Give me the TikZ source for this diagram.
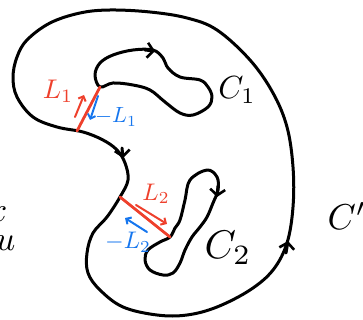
\documentclass[tikz,border=0pt]{standalone}
\usetikzlibrary{arrows.meta}
\definecolor{cutred}{RGB}{238,64,44}
\definecolor{cutblue}{RGB}{22,118,238}

\begin{document}
\begin{tikzpicture}[x=1pt,y=-1pt,curve/.style={line width=3pt,line cap=round,line join=round},barb/.style={curve,-{Straight Barb[length=6pt,width=15pt,line width=2.6pt]}},cut/.style={line width=2.8pt,line cap=round},small/.style={line width=2pt,line cap=round,-{Straight Barb[length=4pt,width=8pt]}},lab/.style={inner sep=0pt,scale=#1/10,transform shape}]
\useasboundingbox (0,0) rectangle (363,320);
% region boundary and the two holes
\draw[curve] plot[smooth cycle,tension=0.6] coordinates {(80,13) (110,10) (150,12) (187,18) (217,30) (250,60) (273,93) (287,127) (293,167) (293,207) (287,243) (273,270) (250,290) (217,307) (187,315) (157,315) (123,307) (100,290) (88,273) (87,253) (93,233) (107,217) (120,197) (128,180) (125,163) (117,150) (103,140) (83,132) (57,127) (33,117) (17,97) (13,77) (17,57) (27,40) (50,23)};
\draw[curve] plot[smooth cycle,tension=0.6] coordinates {(95,75) (100,63) (113,55) (133,50) (153,50) (163,58) (168,68) (180,77) (200,80) (208,87) (212,97) (208,107) (193,115) (180,113) (165,102) (150,90) (133,85) (113,83) (100,87)};
\draw[curve] plot[smooth cycle,tension=0.6] coordinates {(207,170) (217,177) (218,190) (213,203) (207,217) (200,227) (192,237) (185,250) (180,263) (173,273) (163,275) (150,270) (145,260) (148,250) (160,242) (170,237) (175,228) (180,220) (185,200) (190,180)};
% orientation marks
\draw[barb] (122,148) -- (123,158);
\draw[barb] (286,253) -- (288,241);
\draw[barb] (145,50) -- (155,51);
\draw[barb] (218,186) -- (217,197);
% cuts
\coordinate (l1a) at (100,87);
\coordinate (l1b) at (77,131);
\coordinate (l2a) at (120,197);
\coordinate (l2b) at (170,237);
\draw[cut,cutred] (l1a) -- (l1b);
\draw[cut,cutred] (l2a) -- (l2b);
\node[lab=27,text=cutred] (t1) at (58,91) {$L_1$};
\node[lab=22,text=cutblue] (t1m) at (116,117) {$-L_1$};
\node[lab=24,text=cutred] (t2) at (156,194) {$L_2$};
\node[lab=24,text=cutblue] (t2m) at (128,242) {$-L_2$};
\coordinate (r1a) at (75,117);
\coordinate (r1b) at (84,95);
\coordinate (b1a) at (98,96);
\coordinate (b1b) at (90,120);
\coordinate (r2a) at (136,205);
\coordinate (r2b) at (167,224);
\coordinate (b2a) at (147,232);
\coordinate (b2b) at (125,218);
\draw[small,cutred] (r1a) -- (r1b);
\draw[small,cutblue] (b1a) -- (b1b);
\draw[small,cutred] (r2a) -- (r2b);
\draw[small,cutblue] (b2a) -- (b2b);
% curve names
\node[lab=32] (c1) at (237,90) {$C_1$};
\node[lab=40] (c2) at (228,248) {$C_2$};
\node[lab=36,anchor=west] (c0) at (327,216) {$C'$};
\node[lab=34,anchor=east] (x) at (8,214) {$x$};
\node[lab=34,anchor=east] (u) at (16,243) {$u$};
\end{tikzpicture}
\end{document}
